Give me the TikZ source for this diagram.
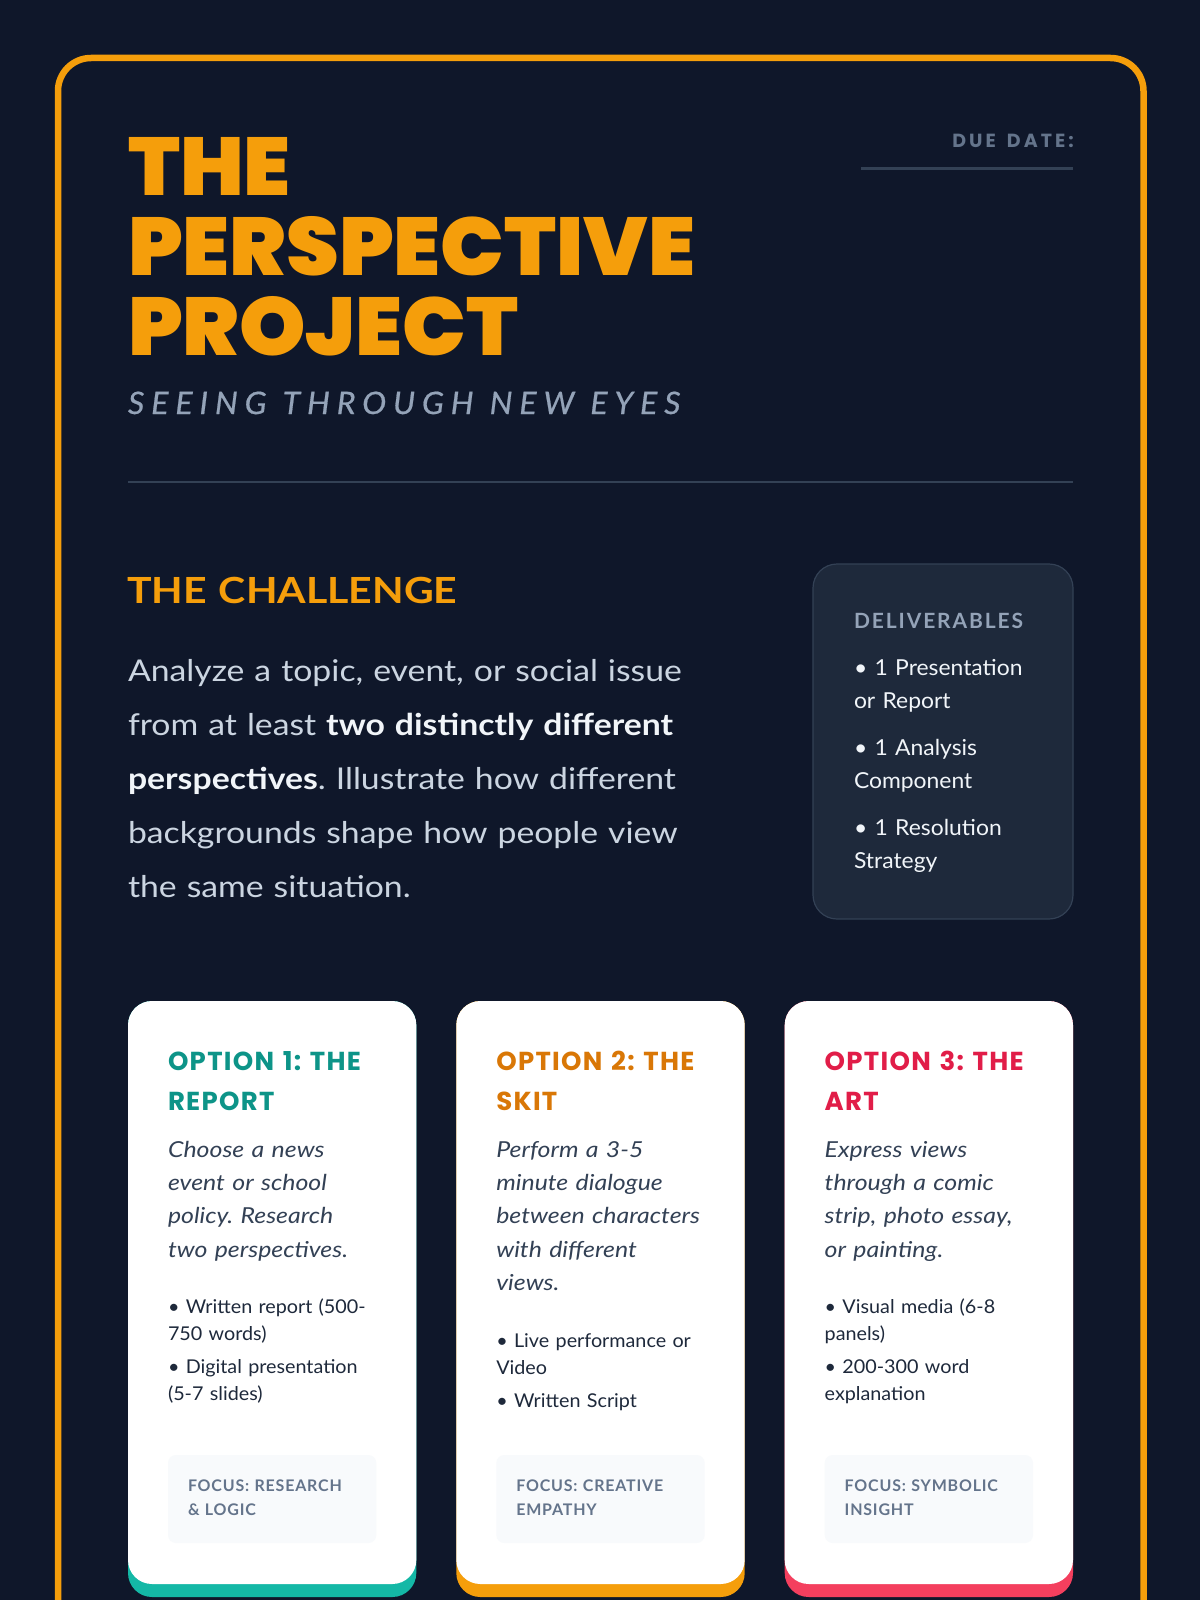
\documentclass[tikz,border=0pt]{standalone}
\usepackage{fontspec}
\setmainfont{Lato}[FakeStretch=1.04]
\newfontfamily\parafont{Lato}[FakeStretch=1.125]
\newfontfamily\descfont{Lato}[FakeStretch=1.13]
\IfFontExistsTF{Poppins Black}
  {\newfontfamily\titlefont{Poppins Black}[FakeStretch=1.03]}
  {\newfontfamily\titlefont{Poppins}[FakeStretch=1.07,FakeBold=0.8]}
\newfontfamily\cardfont{Poppins}[LetterSpace=5]
\newfontfamily\poptrack{Poppins}[LetterSpace=16]
\newfontfamily\subfont{Lato}[LetterSpace=22,FakeBold=0.6,FakeStretch=1.04]
\newfontfamily\focusfont{Lato}[LetterSpace=5]
\newfontfamily\delfont{Lato}[LetterSpace=9]
\newfontfamily\chalfont{Lato}[FakeStretch=1.14]
\definecolor{bg}{HTML}{0F172A}
\definecolor{amber}{HTML}{F59E0B}
\definecolor{amberdk}{HTML}{D97706}
\definecolor{slatefour}{HTML}{94A3B8}
\definecolor{slatefive}{HTML}{64748B}
\definecolor{slateseven}{HTML}{334155}
\definecolor{slateeight}{HTML}{1E293B}
\definecolor{slatethree}{HTML}{CBD5E1}
\definecolor{slateone}{HTML}{F1F5F9}
\definecolor{tealdk}{HTML}{0D9488}
\definecolor{teallt}{HTML}{14B8A6}
\definecolor{rosedk}{HTML}{E11D48}
\definecolor{roselt}{HTML}{F43F5E}
\definecolor{focusbg}{HTML}{F8FAFC}
\tikzset{
  txt/.style={anchor=base west, inner sep=0pt, outer sep=0pt, align=left, text width=#1},
  txt/.default=700pt,
  cardtitle/.style={txt=260pt, font=\frenchspacing\cardfont\bfseries\fontsize{26}{40}\selectfont},
  carddesc/.style={txt=260pt, text=slateseven, font=\frenchspacing\descfont\itshape\fontsize{22}{33.4}\selectfont},
  cardlist/.style={txt=260pt, text=slateeight, font=\frenchspacing\fontsize{19}{27}\selectfont},
  focustext/.style={txt=200pt, text=slatefive, font=\frenchspacing\focusfont\bfseries\fontsize{16}{24.5}\selectfont},
  focusbox/.style={fill=focusbg, rounded corners=8pt},
}
\newcommand\wsp{\hspace{16pt}}
\begin{document}
\begin{tikzpicture}[x=1pt,y=-1pt]
\useasboundingbox (0,0) rectangle (1200,1600);
\clip (0,0) rectangle (1200,1600);
\fill[bg] (0,0) rectangle (1200,1600);
\draw[amber, line width=6.5pt, rounded corners=33pt] (58,58) rectangle (1143.5,1750);

% header
\node[txt=900pt, text=amber, font=\titlefont\fontsize{82}{80}\selectfont] (title) at (128,195) {THE\\PERSPECTIVE\\PROJECT};
\node[txt, text=slatefour, font=\subfont\itshape\fontsize{31}{36}\selectfont] (subtitle) at (128,414) {SEEING\wsp THROUGH\wsp NEW\wsp EYES};
\node[anchor=base east, inner sep=0pt, text=slatefive, font=\poptrack\bfseries\fontsize{19}{22}\selectfont] (due) at (1074,147) {DUE\hspace{4pt} DATE:};
\draw[slateseven, line width=3pt] (861,168) -- (1073,168);
\draw[slateseven, line width=2.5pt] (128,482) -- (1073,482);

% challenge
\node[txt, text=amber, font=\chalfont\bfseries\fontsize{36}{40}\selectfont] (chal) at (127,603) {THE CHALLENGE};
\node[txt, text=slatethree, font=\frenchspacing\parafont\fontsize{30}{54}\selectfont] (chaltext) at (128,681) {Analyze a topic, event, or social issue\\from at least \textcolor{slateone}{\bfseries two distinctly different}\\\textcolor{slateone}{\bfseries perspectives}. Illustrate how different\\backgrounds shape how people view\\the same situation.};

% deliverables
\draw[fill=slateeight, draw=slateseven, line width=1.2pt, rounded corners=24pt] (813,564) rectangle (1073,919);
\node[txt=220pt, text=slatefour, font=\delfont\bfseries\fontsize{21}{24}\selectfont] (delhead) at (854,628) {DELIVERABLES};
\node[txt=220pt, text=slateone, font=\fontsize{22}{33}\selectfont] (dellist) at (854,675) {• 1 Presentation\\or Report\\[14pt]• 1 Analysis\\Component\\[14pt]• 1 Resolution\\Strategy};

% card 1
\fill[teallt, rounded corners=24pt] (128,1001) rectangle (416.3,1597);
\fill[white, rounded corners=24pt] (128,1001) rectangle (416.3,1584);
\node[cardtitle, text=tealdk] (t1) at (168,1070) {OPTION 1: THE\\REPORT};
\node[carddesc] (d1) at (168,1157) {Choose a news\\event or school\\policy. Research\\two perspectives.};
\node[cardlist] (l1) at (168,1313) {• Written report (500-\\750 words)\\[6pt]• Digital presentation\\(5-7 slides)};
\fill[focusbox] (168,1455) rectangle (376.3,1543);
\node[focustext] (f1) at (188,1491) {FOCUS: RESEARCH\\\& LOGIC};

% card 2
\fill[amber, rounded corners=24pt] (456.3,1001) rectangle (744.7,1597);
\fill[white, rounded corners=24pt] (456.3,1001) rectangle (744.7,1584);
\node[cardtitle, text=amberdk] (t2) at (496.3,1070) {OPTION 2: THE\\SKIT};
\node[carddesc] (d2) at (496.3,1157) {Perform a 3-5\\minute dialogue\\between characters\\with different\\views.};
\node[cardlist] (l2) at (496.3,1347) {• Live performance or\\Video\\[6pt]• Written Script};
\fill[focusbox] (496.3,1455) rectangle (704.7,1543);
\node[focustext] (f2) at (516.3,1491) {FOCUS: CREATIVE\\EMPATHY};

% card 3
\fill[roselt, rounded corners=24pt] (784.7,1001) rectangle (1073,1597);
\fill[white, rounded corners=24pt] (784.7,1001) rectangle (1073,1584);
\node[cardtitle, text=rosedk] (t3) at (824.7,1070) {OPTION 3: THE\\ART};
\node[carddesc] (d3) at (824.7,1157) {Express views\\through a comic\\strip, photo essay,\\or painting.};
\node[cardlist] (l3) at (824.7,1313) {• Visual media (6-8\\panels)\\[6pt]• 200-300 word\\explanation};
\fill[focusbox] (824.7,1455) rectangle (1033,1543);
\node[focustext] (f3) at (844.7,1491) {FOCUS: SYMBOLIC\\INSIGHT};
\end{tikzpicture}
\end{document}
